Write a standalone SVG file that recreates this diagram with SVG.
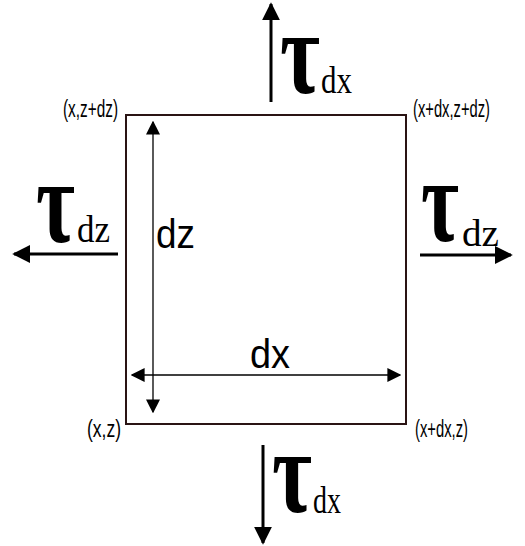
<svg xmlns="http://www.w3.org/2000/svg" width="525" height="546" viewBox="0 0 525 546">
<style>
.tau{font-family:"Liberation Serif",serif;font-size:118px;font-weight:bold;fill:#000}
.sub{font-family:"Liberation Serif",serif;font-size:37px;font-weight:normal;fill:#000}
.cor{font-family:"Liberation Sans",sans-serif;font-size:23px;fill:#000}
.dim{font-family:"Liberation Sans",sans-serif;font-size:40px;fill:#000}
.ar{stroke:#000;stroke-width:3;fill:none}
.th{stroke:#000;stroke-width:1.3;fill:none}
</style>
<defs>
<marker id="big" viewBox="0 0 10 10" refX="9" refY="5" markerWidth="6" markerHeight="6" markerUnits="strokeWidth" orient="auto"><path d="M0,0L10,5L0,10z" fill="#000"/></marker>
<marker id="small" viewBox="0 0 10 10" refX="9" refY="5" markerWidth="14" markerHeight="14" markerUnits="userSpaceOnUse" orient="auto-start-reverse"><path d="M0,0L10,5L0,10z" fill="#000"/></marker>
</defs>
<g id="element">
<rect x="126" y="115" width="280" height="309" fill="none" stroke="#2a1414" stroke-width="2"/>
</g>
<g id="connectors">
<line class="ar" x1="271" y1="102" x2="271" y2="4" marker-end="url(#big)"/>
<line class="ar" x1="263" y1="445" x2="263" y2="543" marker-end="url(#big)"/>
<line class="ar" x1="118" y1="254" x2="14" y2="254" marker-end="url(#big)"/>
<line class="ar" x1="420" y1="255" x2="511" y2="255" marker-end="url(#big)"/>
<line class="th" x1="153" y1="122" x2="153" y2="412" marker-start="url(#small)" marker-end="url(#small)"/>
<line class="th" x1="132" y1="375" x2="400" y2="375" marker-start="url(#small)" marker-end="url(#small)"/>
</g>
<g id="labels">
<text class="tau" x="280" y="93"><tspan textLength="40" lengthAdjust="spacingAndGlyphs">τ</tspan><tspan class="sub" x="321" textLength="31" lengthAdjust="spacingAndGlyphs">dx</tspan></text>
<text class="tau" x="272" y="512"><tspan textLength="40" lengthAdjust="spacingAndGlyphs">τ</tspan><tspan class="sub" x="313" y="513" textLength="28" lengthAdjust="spacingAndGlyphs">dx</tspan></text>
<text class="tau" x="36" y="242"><tspan textLength="39" lengthAdjust="spacingAndGlyphs">τ</tspan><tspan class="sub" x="77" textLength="33" lengthAdjust="spacingAndGlyphs">dz</tspan></text>
<text class="tau" x="421" y="241"><tspan textLength="38" lengthAdjust="spacingAndGlyphs">τ</tspan><tspan class="sub" x="462" y="246" textLength="37" lengthAdjust="spacingAndGlyphs">dz</tspan></text>
<text class="cor" x="63" y="117" textLength="55" lengthAdjust="spacingAndGlyphs">(x,z+dz)</text>
<text class="cor" x="413" y="117" textLength="77" lengthAdjust="spacingAndGlyphs">(x+dx,z+dz)</text>
<text class="cor" x="87" y="437" textLength="34" lengthAdjust="spacingAndGlyphs">(x,z)</text>
<text class="cor" x="415" y="437" textLength="53" lengthAdjust="spacingAndGlyphs">(x+dx,z)</text>
<text class="dim" x="156" y="248" textLength="39" lengthAdjust="spacingAndGlyphs">dz</text>
<text class="dim" x="250" y="368" textLength="40" lengthAdjust="spacingAndGlyphs">dx</text>
</g>
</svg>
